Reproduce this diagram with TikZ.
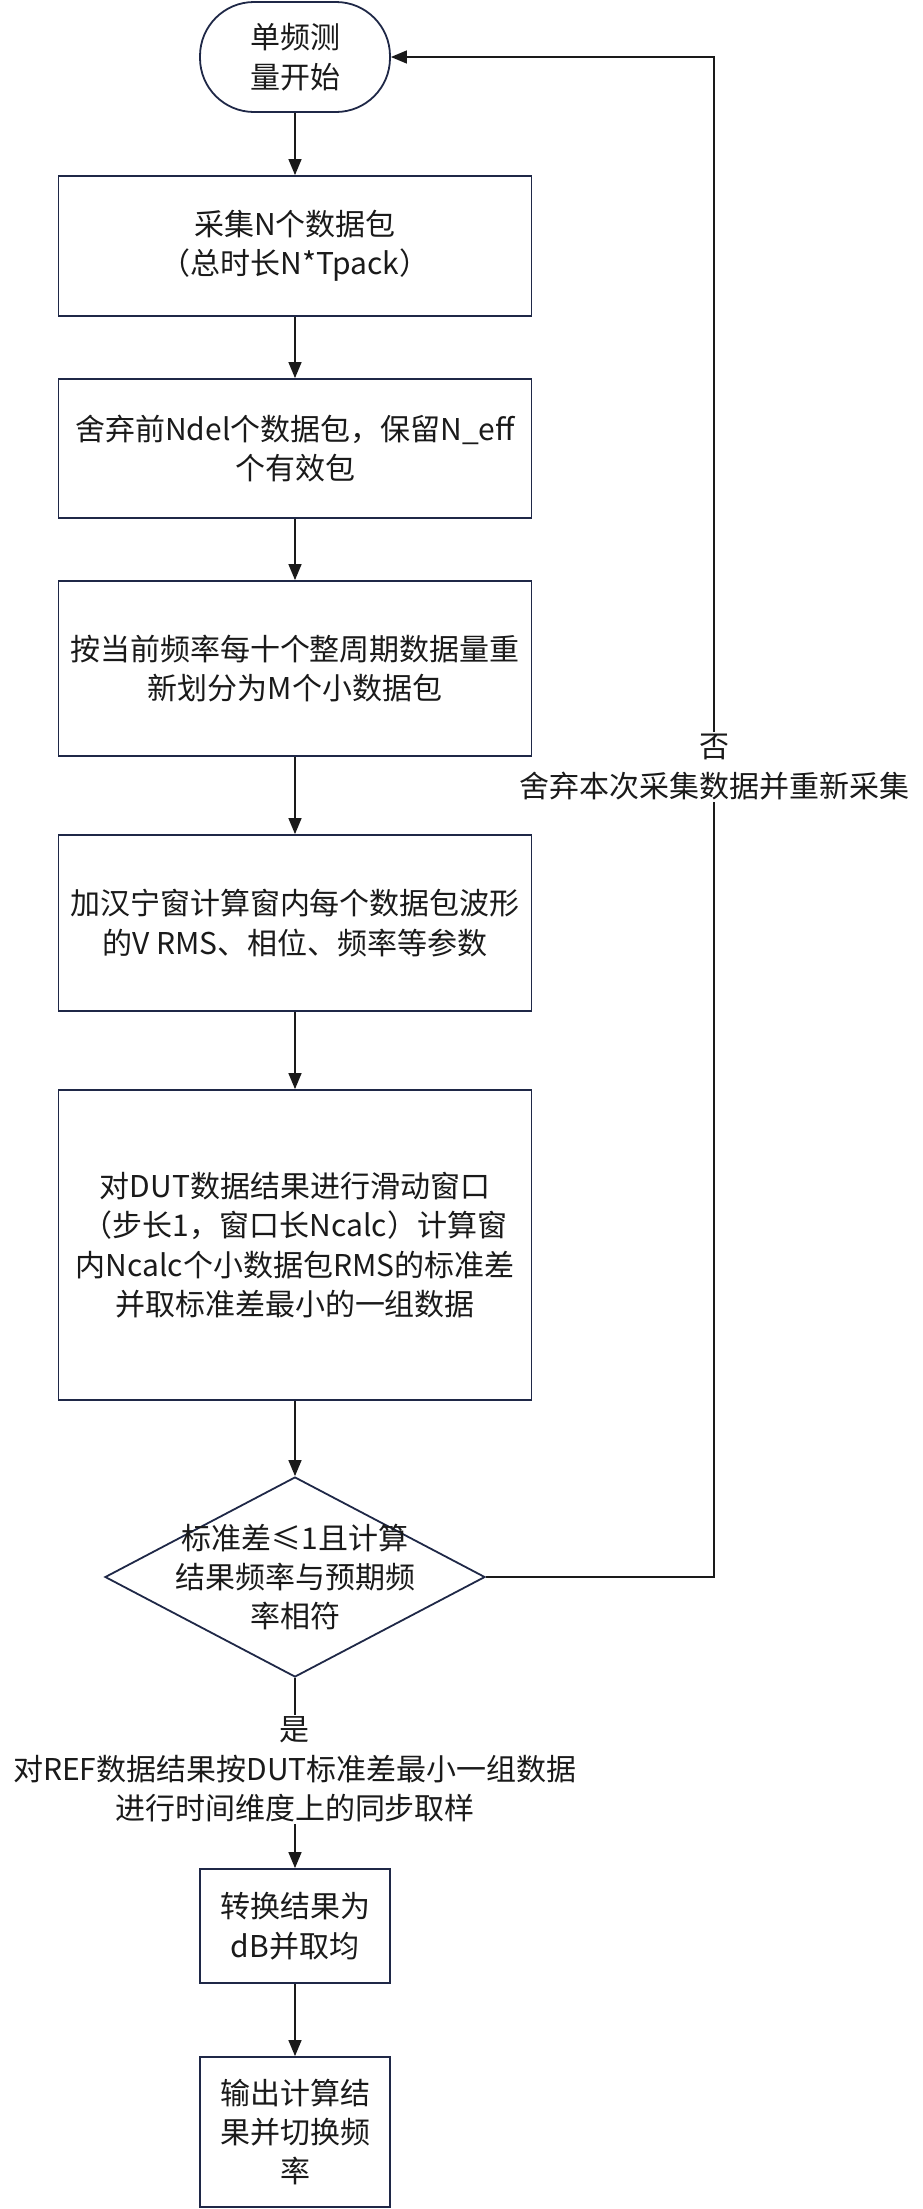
\documentclass[tikz,border=0pt]{standalone}
\usepackage{fontspec}
\setmainfont{Noto Sans CJK SC}
\usetikzlibrary{arrows.meta,shapes.geometric}
\definecolor{boxc}{HTML}{1F2847}
\definecolor{linec}{HTML}{1A1A1A}
\begin{document}
\begin{tikzpicture}[x=1pt,y=-1pt,
  txt/.style={font=\fontsize{30pt}{39.3pt}\selectfont, text=linec, align=center},
  procbox/.style={txt, draw=boxc, line width=1.8pt, fill=white, inner sep=0pt},
  startbox/.style={procbox, rounded corners=54pt},
  decbox/.style={diamond, draw=boxc, line width=1.8pt, inner sep=0pt},
  lbl/.style={txt, fill=white, inner sep=2pt},
  conn/.style={draw=linec, line width=1.4pt},
  arr/.style={conn, -{Triangle[length=16pt,width=13pt]}}]
\useasboundingbox (0,0) rectangle (922,2209);
\node[lbl] (no) at (714,767) {否\\舍弃本次采集数据并重新采集};
\node[startbox, minimum width=190pt, minimum height=110pt] (s) at (295,57) {单频测\\量开始};
\node[procbox, minimum width=473pt, minimum height=140pt] (b1) at (295,246) {采集N个数据包\\（总时长N*Tpack）};
\node[procbox, minimum width=473pt, minimum height=139pt] (b2) at (295,448.5) {舍弃前Ndel个数据包，保留N\_eff\\个有效包};
\node[procbox, minimum width=473pt, minimum height=175pt] (b3) at (295,668.5) {按当前频率每十个整周期数据量重\\新划分为M个小数据包};
\node[procbox, minimum width=473pt, minimum height=176pt] (b4) at (295,923) {加汉宁窗计算窗内每个数据包波形\\的V RMS、相位、频率等参数};
\node[procbox, minimum width=473pt, minimum height=310pt] (b5) at (295,1245) {对DUT数据结果进行滑动窗口\\（步长1，窗口长Ncalc）计算窗\\内Ncalc个小数据包RMS的标准差\\并取标准差最小的一组数据};
\node[decbox, minimum width=380pt, minimum height=200pt] (d) at (295,1577) {};
\node[txt] (dt) at (d.center) {标准差≤1且计算\\结果频率与预期频\\率相符};
\node[lbl] (yes) at (295,1769.5) {是\\对REF数据结果按DUT标准差最小一组数据\\进行时间维度上的同步取样};
\node[procbox, minimum width=190pt, minimum height=114pt] (b6) at (295,1926) {转换结果为\\dB并取均};
\node[procbox, minimum width=190pt, minimum height=150pt] (b7) at (295,2132) {输出计算结\\果并切换频\\率};
\coordinate (fb1) at (714,1577);
\coordinate (fb2) at (714,57);
\draw[arr] (s) -- (b1);
\draw[arr] (b1) -- (b2);
\draw[arr] (b2) -- (b3);
\draw[arr] (b3) -- (b4);
\draw[arr] (b4) -- (b5);
\draw[arr] (b5) -- (d);
\draw[conn] (d.south) -- (yes.north);
\draw[arr] (yes.south) -- (b6.north);
\draw[arr] (b6) -- (b7);
\draw[conn] (d.east) -- (fb1) -- (no.south);
\draw[arr] (no.north) -- (fb2) -- (s.east);
\end{tikzpicture}
\end{document}
